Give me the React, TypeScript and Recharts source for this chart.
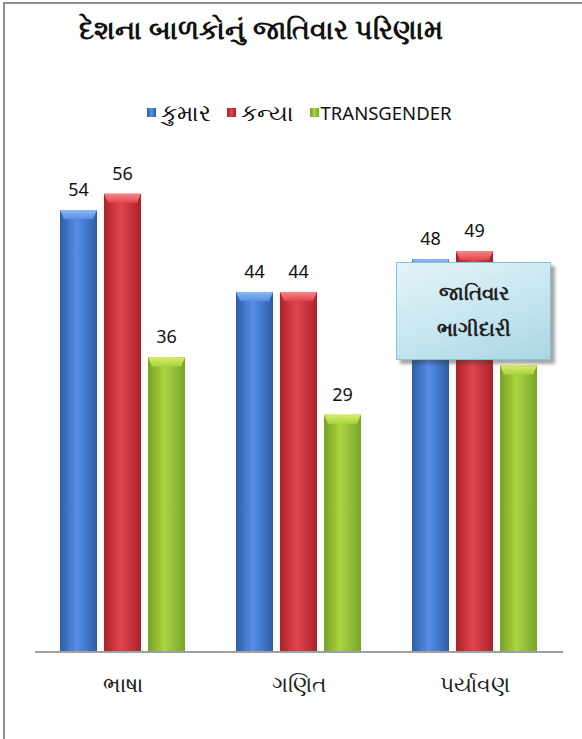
import { BarChart, Bar, XAxis, YAxis, LabelList } from 'recharts';

const subjects = ['ભાષા', 'ગણિત', 'પર્યાવણ'];
const kumar = [54, 44, 48];
const kanya = [56, 44, 49];
const transgender = [36, 29, 35];

const seriesNames = ['કુમાર', 'કન્યા', 'TRANSGENDER'];
const seriesKeys = ['kumar', 'kanya', 'transgender'];

const palette = [
	{ edge: '#2d5ca8', mid: '#5690e6', top: '#8fb8f0' },
	{ edge: '#a8232a', mid: '#e2444b', top: '#f08a8a' },
	{ edge: '#78a326', mid: '#a9d43f', top: '#d6ec6a' },
];

const data = subjects.map((name, i) => ({
	name,
	kumar: kumar[i],
	kanya: kanya[i],
	transgender: transgender[i],
}));

const font = '"Noto Sans", "DejaVu Sans", sans-serif';
const isLatin = (s: string) => /^[A-Za-z0-9 ]+$/.test(s);

function makeShape(idx: number) {
	return (props: any) => {
		const { x, y, width, height } = props;
		if (!height || height <= 0) return <g />;
		const bevel = Math.min(9, height);
		return (
			<g>
				<rect x={x} y={y} width={width} height={height} fill={`url(#side${idx})`} />
				<path
					d={`M${x},${y} L${x + width},${y} L${x + width - 4},${y + bevel} L${x + 4},${y + bevel} Z`}
					fill={`url(#top${idx})`}
				/>
			</g>
		);
	};
}

export default function App() {
	return (
		<div style={{ position: 'relative', width: 582, height: 739, background: '#fff', fontFamily: font, overflow: 'hidden' }}>
			<style>{'body{margin:0}'}</style>
			<div
				style={{
					position: 'absolute',
					left: 3,
					top: 2,
					width: 579,
					height: 737,
					borderTop: '2px solid #8e8e8e',
					borderLeft: '2px solid #8e8e8e',
					boxSizing: 'border-box',
				}}
			/>
			<div
				style={{
					position: 'absolute',
					left: 0,
					width: 522,
					top: 10,
					textAlign: 'center',
					fontSize: 27,
					fontWeight: 'bold',
					color: '#111',
				}}
			>
				દેશના બાળકોનું જાતિવાર પરિણામ
			</div>
			<div
				style={{
					position: 'absolute',
					left: 0,
					width: 598,
					top: 98,
					height: 28,
					display: 'flex',
					justifyContent: 'center',
					alignItems: 'center',
					gap: 16,
					color: '#111',
				}}
			>
				{seriesNames.map((n, i) => (
					<div key={n} style={{ display: 'flex', alignItems: 'center', gap: isLatin(n) ? 2 : 5 }}>
						<div
							style={{
								width: 9,
								height: 9,
								background: `linear-gradient(90deg, ${palette[i].edge}, ${palette[i].mid}, ${palette[i].edge})`,
							}}
						/>
						<span style={{ fontSize: isLatin(n) ? 18.5 : 23 }}>{n}</span>
					</div>
				))}
			</div>
			<div style={{ position: 'absolute', left: 0, top: 0 }}>
				<BarChart
					width={582}
					height={739}
					data={data}
					margin={{ top: 161, right: 19, left: 35, bottom: 37 }}
					barCategoryGap={25}
					barGap={7}
				>
					<defs>
						{palette.map((p, i) => (
							<linearGradient key={`s${i}`} id={`side${i}`} x1="0" y1="0" x2="1" y2="0">
								<stop offset="0%" stopColor={p.edge} />
								<stop offset="45%" stopColor={p.mid} />
								<stop offset="100%" stopColor={p.edge} />
							</linearGradient>
						))}
						{palette.map((p, i) => (
							<linearGradient key={`t${i}`} id={`top${i}`} x1="0" y1="0" x2="0" y2="1">
								<stop offset="0%" stopColor={p.top} />
								<stop offset="100%" stopColor={p.mid} />
							</linearGradient>
						))}
					</defs>
					<XAxis
						dataKey="name"
						height={50}
						tickLine={false}
						tickSize={0}
						tickMargin={24}
						axisLine={{ stroke: '#a0a0a0', strokeWidth: 2 }}
						tick={{ fill: '#222', fontSize: 22, fontFamily: font }}
					/>
					<YAxis hide domain={[0, 60]} />
					{seriesKeys.map((k, i) => (
						<Bar key={k} dataKey={k} name={seriesNames[i]} shape={makeShape(i)} isAnimationActive={false}>
							<LabelList dataKey={k} position="top" offset={14} fill="#111" fontSize={18} fontFamily={font} />
						</Bar>
					))}
				</BarChart>
			</div>
			<div
				style={{
					position: 'absolute',
					left: 396,
					top: 262,
					width: 155,
					height: 98,
					boxSizing: 'border-box',
					border: '1px solid #86c3d3',
					background: 'linear-gradient(160deg, #e4f3f8 0%, #c6e6ef 55%, #a9d6e3 100%)',
					boxShadow: '4px 4px 3px rgba(60,60,60,0.45)',
					display: 'flex',
					flexDirection: 'column',
					justifyContent: 'center',
					alignItems: 'center',
					fontSize: 20,
					fontWeight: 'bold',
					lineHeight: '36px',
					color: '#222',
				}}
			>
				<div>જાતિવાર</div>
				<div>ભાગીદારી</div>
			</div>
		</div>
	);
}
